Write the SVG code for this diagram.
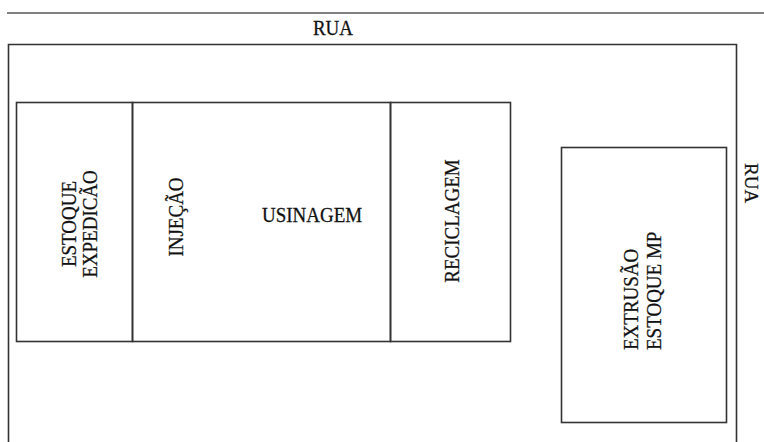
<svg xmlns="http://www.w3.org/2000/svg" width="764" height="442" viewBox="0 0 764 442">
<style>
.b{fill:none;stroke:#333;stroke-width:1.6}
.t{font-family:"Liberation Serif","Times New Roman",serif;font-size:19px;fill:#111;stroke:#111;stroke-width:0.25}
</style>
<rect width="764" height="442" fill="#fff"/>
<line x1="7" y1="13" x2="764" y2="13" stroke="#808080" stroke-width="2"/>
<g id="street-top"><text class="t" transform="translate(333,35) scale(1,1.1)" text-anchor="middle">RUA</text></g>
<g id="lot"><path class="b" d="M8.5,444 V44.5 H736.5 V444"/></g>
<g id="street-right"><text class="t" transform="translate(745,163) rotate(90)">RUA</text></g>
<g id="estoque-expedicao">
<rect class="b" x="16.5" y="102.5" width="116" height="239"/>
<text class="t" transform="translate(76,224) rotate(-90) scale(1,1.1)" text-anchor="middle">ESTOQUE</text>
<text class="t" transform="translate(97,224) rotate(-90) scale(1,1.1)" text-anchor="middle">EXPEDICÃO</text>
</g>
<g id="injecao-usinagem">
<rect class="b" x="132.5" y="102.5" width="258" height="239"/>
<text class="t" transform="translate(183,217) rotate(-90) scale(1,1.1)" text-anchor="middle">INJEÇÃO</text>
<text class="t" transform="translate(262,222) scale(1,1.1)">USINAGEM</text>
</g>
<g id="reciclagem">
<rect class="b" x="390.5" y="102.5" width="120" height="239"/>
<text class="t" transform="translate(459,221) rotate(-90) scale(1,1.1)" text-anchor="middle">RECICLAGEM</text>
</g>
<g id="extrusao-estoque-mp">
<rect class="b" x="561.5" y="147.5" width="165" height="275"/>
<text class="t" transform="translate(638,350) rotate(-90) scale(1,1.1)">EXTRUSÃO</text>
<text class="t" transform="translate(661,350) rotate(-90) scale(1,1.1)">ESTOQUE MP</text>
</g>
<g id="connectors"/>
</svg>
